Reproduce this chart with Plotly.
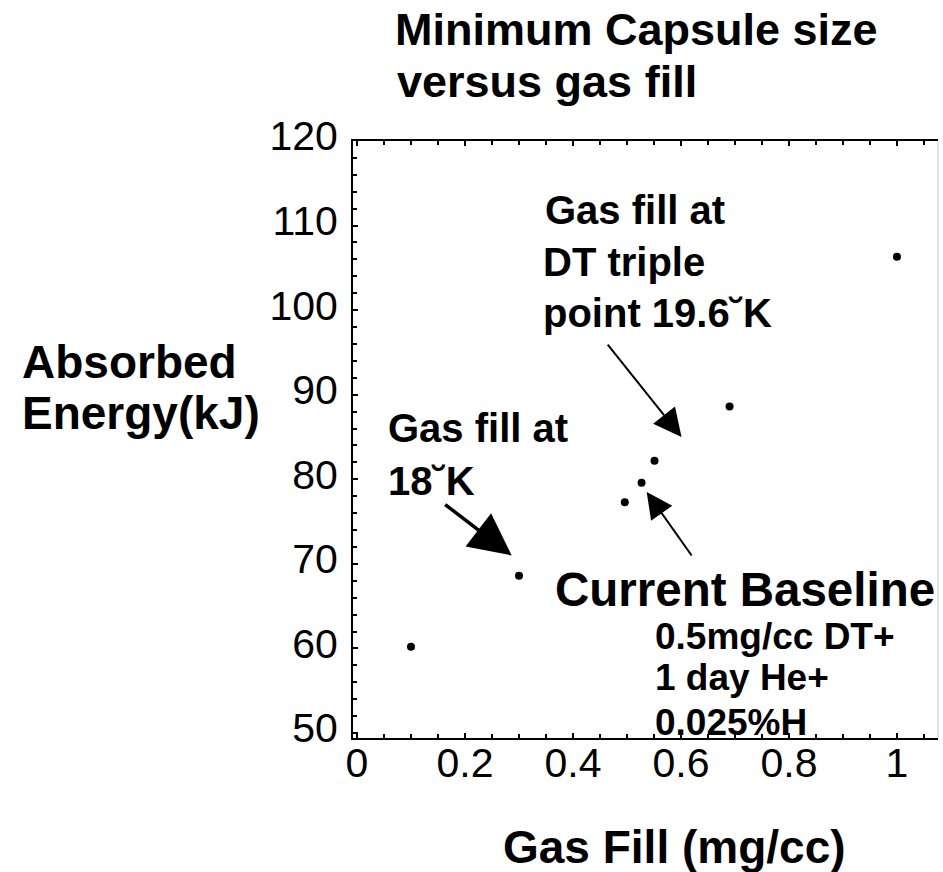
import plotly.graph_objects as go

# Gas fill density (mg/cc) and minimum absorbed energy (kJ)
gas_fill = [0.1, 0.3, 0.496, 0.527, 0.551, 0.69, 1.0]
absorbed_energy = [60.2, 68.6, 77.3, 79.6, 82.2, 88.6, 106.3]

x_tick_vals = [0, 0.2, 0.4, 0.6, 0.8, 1.0]
x_tick_text = ["0", "0.2", "0.4", "0.6", "0.8", "1"]
y_tick_vals = [50, 60, 70, 80, 90, 100, 110, 120]
y_tick_text = ["50", "60", "70", "80", "90", "100", "110", "120"]

W, H = 943, 872
L, R, T, B = 353, 5, 141, 134
PW, PH = W - L - R, H - T - B

BOLD = "Liberation Sans, Arial, Helvetica, sans-serif"
TICKF = "Liberation Sans, Arial, sans-serif"


def px(x, y):
    """Pixel position on the page -> paper coordinates."""
    return (x - L) / PW, (H - B - y) / PH


fig = go.Figure()
fig.add_trace(go.Scatter(
    x=gas_fill, y=absorbed_energy, mode="markers",
    marker=dict(color="black", size=8, line=dict(width=0)),
    showlegend=False, cliponaxis=False,
))


def label(text, x, y, size):
    xp, yp = px(x, y)
    fig.add_annotation(
        text=text, x=xp, y=yp, xref="paper", yref="paper",
        xanchor="left", yanchor="middle", showarrow=False,
        font=dict(family=BOLD, size=size, color="black", weight="bold"),
    )


# title
label("Minimum Capsule size", 393, 30, 45)
label("versus gas fill", 395, 81, 45)
# axis titles
label("Absorbed", 20, 362, 46)
label("Energy(kJ)", 20, 413, 46)
label("Gas Fill (mg/cc)", 501, 847, 46)
# notes
label("Gas fill at", 543, 210, 40)
label("DT triple", 541, 262, 40)
label("point 19.6˘K", 541, 313, 40)
label("Gas fill at", 386, 428, 40)
label("18˘K", 386, 481, 40)
label("Current Baseline", 553, 589, 47.5)
label("0.5mg/cc DT+", 653, 636, 37)
label("1 day He+", 653, 677, 37)
label("0.025%H", 653, 722, 37)


def arrow(tip_x, tip_y, dx, dy, width, size):
    fig.add_annotation(
        x=tip_x, y=tip_y, xref="x", yref="y", text="",
        showarrow=True, arrowhead=2, arrowsize=size, arrowwidth=width,
        arrowcolor="black", axref="pixel", ayref="pixel", ax=dx, ay=dy,
        standoff=0,
    )


arrow(0.601, 85.0, -75, -94, 2, 2.8)
arrow(0.2865, 71.0, -68, -52, 3.5, 2.4)
arrow(0.5365, 78.5, 46, 65, 2, 2.6)

# faint right-hand frame edge
fig.add_shape(type="line", xref="paper", yref="paper", x0=1, x1=1, y0=0, y1=1,
              line=dict(color="#e2e2e2", width=2))

fig.update_xaxes(
    range=[-0.0074, 1.076], tickvals=x_tick_vals, ticktext=x_tick_text,
    ticks="inside", ticklen=5, tickwidth=1.5, tickcolor="black",
    minor=dict(dtick=0.05, tick0=0, ticks="inside", ticklen=4, tickwidth=1.5, tickcolor="black"),
    showline=True, linecolor="black", linewidth=2, mirror="allticks",
    showgrid=False, zeroline=False,
    tickfont=dict(family=TICKF, size=41, color="black"), ticklabelstandoff=-12,
)
fig.update_yaxes(
    range=[49.41, 120], tickvals=y_tick_vals, ticktext=y_tick_text,
    ticks="inside", ticklen=5, tickwidth=1.5, tickcolor="black",
    minor=dict(dtick=2, tick0=50, ticks="inside", ticklen=4, tickwidth=1.5, tickcolor="black"),
    showline=True, linecolor="black", linewidth=2,
    showgrid=False, zeroline=False,
    tickfont=dict(family=TICKF, size=41, color="black"),
    ticklabelstandoff=5, ticklabelshift=-5,
)

fig.update_layout(
    width=W, height=H, margin=dict(l=L, r=R, t=T, b=B),
    paper_bgcolor="white", plot_bgcolor="white", showlegend=False,
)

fig.write_html("out.html")
